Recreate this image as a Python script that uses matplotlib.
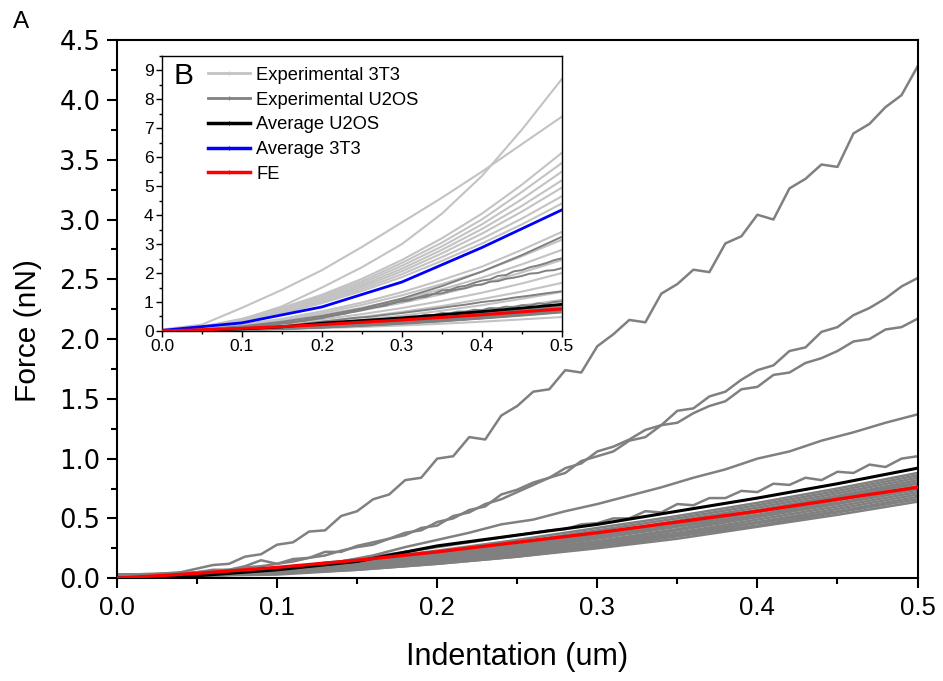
import numpy as np
import matplotlib
matplotlib.use("Agg")
import matplotlib.pyplot as plt
from matplotlib.lines import Line2D
from matplotlib.ticker import MultipleLocator, FormatStrFormatter

plt.rcParams['font.family'] = ['Liberation Sans', 'DejaVu Sans']

# ---- U2OS force curves (nN) sampled at 0.01 um steps ----
u2os_a = [0.02, 0.03, 0.02, 0.04, 0.05, 0.08, 0.11, 0.12, 0.18, 0.20, 0.28,
          0.30, 0.39, 0.40, 0.52, 0.56, 0.66, 0.70, 0.82, 0.84, 1.00,
          1.02, 1.18, 1.16, 1.36, 1.44, 1.56, 1.58, 1.74, 1.72, 1.94,
          2.04, 2.16, 2.14, 2.38, 2.46, 2.58, 2.56, 2.80, 2.86, 3.04,
          3.00, 3.26, 3.34, 3.46, 3.44, 3.72, 3.80, 3.94, 4.04, 4.28]
u2os_b = [0.02, 0.03, 0.03, 0.04, 0.04, 0.05, 0.07, 0.07, 0.10, 0.15, 0.12,
          0.16, 0.17, 0.22, 0.22, 0.27, 0.30, 0.33, 0.38, 0.40, 0.47,
          0.50, 0.57, 0.60, 0.70, 0.74, 0.80, 0.84, 0.92, 0.96, 1.06,
          1.10, 1.16, 1.24, 1.28, 1.40, 1.42, 1.52, 1.56, 1.66, 1.74,
          1.78, 1.90, 1.93, 2.06, 2.10, 2.20, 2.26, 2.34, 2.44, 2.51]
u2os_c = [0.02, 0.02, 0.03, 0.03, 0.04, 0.05, 0.06, 0.07, 0.09, 0.10, 0.12,
          0.14, 0.17, 0.19, 0.23, 0.26, 0.28, 0.33, 0.36, 0.42, 0.44,
          0.52, 0.55, 0.62, 0.66, 0.72, 0.78, 0.84, 0.88, 0.98, 1.02,
          1.06, 1.15, 1.18, 1.28, 1.30, 1.38, 1.44, 1.48, 1.58, 1.60,
          1.70, 1.72, 1.80, 1.84, 1.90, 1.98, 2.00, 2.08, 2.10, 2.17]
u2os_e = [0.01, 0.01, 0.02, 0.02, 0.03, 0.03, 0.04, 0.05, 0.06, 0.07, 0.08,
          0.10, 0.11, 0.13, 0.14, 0.16, 0.18, 0.20, 0.22, 0.24, 0.26,
          0.28, 0.30, 0.32, 0.34, 0.36, 0.38, 0.40, 0.41, 0.45, 0.46,
          0.50, 0.50, 0.56, 0.55, 0.62, 0.61, 0.67, 0.67, 0.73, 0.72,
          0.79, 0.78, 0.84, 0.82, 0.89, 0.88, 0.95, 0.93, 1.00, 1.02]
# sampled at 0.02 um steps
u2os_d = [0.01, 0.01, 0.02, 0.03, 0.05, 0.07, 0.10, 0.14, 0.19, 0.26, 0.32,
          0.38, 0.45, 0.49, 0.56, 0.62, 0.69, 0.76, 0.84, 0.91, 1.00,
          1.06, 1.15, 1.22, 1.30, 1.37]
# remaining U2OS cells, sampled at 0.05 um steps
u2os_rest = [
    [0.03, 0.04, 0.08, 0.15, 0.23, 0.32, 0.42, 0.52, 0.63, 0.75, 0.88],
    [0.02, 0.03, 0.07, 0.13, 0.21, 0.30, 0.40, 0.50, 0.61, 0.73, 0.86],
    [0.03, 0.04, 0.07, 0.13, 0.20, 0.28, 0.37, 0.48, 0.59, 0.71, 0.84],
    [0.02, 0.03, 0.06, 0.12, 0.19, 0.27, 0.36, 0.46, 0.57, 0.69, 0.82],
    [0.03, 0.04, 0.06, 0.11, 0.18, 0.26, 0.35, 0.45, 0.56, 0.68, 0.80],
    [0.02, 0.03, 0.06, 0.11, 0.17, 0.25, 0.34, 0.44, 0.55, 0.67, 0.79],
    [0.02, 0.03, 0.05, 0.10, 0.16, 0.24, 0.33, 0.43, 0.53, 0.65, 0.77],
    [0.02, 0.03, 0.05, 0.10, 0.16, 0.23, 0.31, 0.41, 0.52, 0.63, 0.75],
    [0.02, 0.02, 0.05, 0.09, 0.15, 0.22, 0.30, 0.40, 0.51, 0.62, 0.74],
    [0.01, 0.02, 0.04, 0.09, 0.14, 0.21, 0.29, 0.38, 0.49, 0.60, 0.72],
    [0.02, 0.02, 0.04, 0.08, 0.13, 0.20, 0.28, 0.37, 0.47, 0.58, 0.70],
    [0.01, 0.02, 0.04, 0.08, 0.13, 0.19, 0.27, 0.36, 0.46, 0.56, 0.68],
    [0.02, 0.02, 0.04, 0.07, 0.12, 0.18, 0.26, 0.35, 0.44, 0.55, 0.66],
    [0.01, 0.02, 0.03, 0.07, 0.12, 0.18, 0.25, 0.33, 0.43, 0.53, 0.64],
]
# extra U2OS cell shown only in panel B
u2os_b_panel = [0.02, 0.06, 0.16, 0.32, 0.52, 0.78, 1.12, 1.55, 2.05, 2.62, 3.25]

avg_u2os = [0.00, 0.02, 0.07, 0.14, 0.27, 0.36, 0.45, 0.56, 0.67, 0.79, 0.92]
fe_model = [0.00, 0.04, 0.09, 0.15, 0.22, 0.30, 0.38, 0.47, 0.56, 0.66, 0.76]

# ---- 3T3 force curves (nN), 0.05 um steps ----
exp_3t3 = [
    [0.03, 0.12, 0.40, 0.85, 1.50, 2.20, 3.00, 4.05, 5.35, 6.95, 8.70],
    [0.05, 0.22, 0.80, 1.42, 2.10, 2.90, 3.75, 4.60, 5.50, 6.45, 7.40],
    [0.03, 0.15, 0.42, 0.80, 1.25, 1.80, 2.45, 3.20, 4.05, 5.05, 6.15],
    [0.03, 0.14, 0.40, 0.76, 1.20, 1.72, 2.35, 3.05, 3.85, 4.80, 5.80],
    [0.02, 0.13, 0.38, 0.72, 1.15, 1.65, 2.25, 2.92, 3.68, 4.55, 5.50],
    [0.02, 0.12, 0.36, 0.70, 1.10, 1.58, 2.15, 2.80, 3.52, 4.32, 5.20],
    [0.02, 0.12, 0.34, 0.66, 1.05, 1.52, 2.06, 2.68, 3.36, 4.12, 4.95],
    [0.02, 0.11, 0.32, 0.62, 1.00, 1.45, 1.96, 2.55, 3.18, 3.88, 4.65],
    [0.02, 0.11, 0.31, 0.60, 0.96, 1.38, 1.86, 2.42, 3.02, 3.68, 4.40],
    [0.02, 0.08, 0.22, 0.42, 0.68, 0.98, 1.34, 1.76, 2.22, 2.80, 3.42],
    [0.02, 0.07, 0.20, 0.38, 0.62, 0.90, 1.23, 1.62, 2.05, 2.58, 3.15],
    [0.02, 0.07, 0.18, 0.35, 0.56, 0.80, 1.10, 1.44, 1.84, 2.30, 2.80],
    [0.02, 0.06, 0.16, 0.31, 0.49, 0.71, 0.97, 1.27, 1.62, 2.02, 2.45],
    [0.01, 0.05, 0.13, 0.25, 0.40, 0.58, 0.79, 1.04, 1.32, 1.64, 2.00],
    [0.01, 0.04, 0.11, 0.21, 0.33, 0.48, 0.66, 0.86, 1.10, 1.36, 1.66],
    [0.01, 0.03, 0.09, 0.17, 0.27, 0.39, 0.53, 0.70, 0.89, 1.11, 1.35],
    [0.01, 0.03, 0.07, 0.13, 0.21, 0.31, 0.42, 0.56, 0.71, 0.88, 1.07],
    [0.01, 0.02, 0.05, 0.08, 0.13, 0.19, 0.26, 0.34, 0.44, 0.55, 0.66],
    [0.01, 0.02, 0.04, 0.06, 0.10, 0.14, 0.19, 0.25, 0.32, 0.40, 0.48],
]
# 3T3 average, 0.1 um steps
avg_3t3 = [0.02, 0.28, 0.83, 1.69, 2.88, 4.18]

GRAY_U2OS = '#808080'
GRAY_3T3 = '#c3c3c3'


def grid(vals):
    """indentation grid from 0 to 0.5 um matching the number of samples"""
    return np.linspace(0.0, 0.5, len(vals))


def style_axes(ax, lw):
    for s in ax.spines.values():
        s.set_linewidth(lw)
    ax.tick_params(which='both', direction='out', top=False, right=False, width=lw)


fig = plt.figure(figsize=(9.43, 6.81), dpi=100)

# ---------------- panel A ----------------
ax = fig.add_axes([0.124, 0.151, 0.849, 0.790])
jagged = [u2os_a, u2os_b, u2os_c, u2os_d, u2os_e]
for curve in jagged + u2os_rest:
    ax.plot(grid(curve), curve, color=GRAY_U2OS, lw=1.8, zorder=2)
ax.plot(grid(avg_u2os), avg_u2os, color='black', lw=2.2, zorder=3)
ax.plot(grid(fe_model), fe_model, color='#ff0000', lw=2.4, zorder=4)

ax.set_xlim(0, 0.5)
ax.set_ylim(0, 4.5)
ax.xaxis.set_major_locator(MultipleLocator(0.1))
ax.xaxis.set_minor_locator(MultipleLocator(0.05))
ax.yaxis.set_major_locator(MultipleLocator(0.5))
ax.yaxis.set_minor_locator(MultipleLocator(0.25))
ax.xaxis.set_major_formatter(FormatStrFormatter('%.1f'))
ax.yaxis.set_major_formatter(FormatStrFormatter('%.1f'))
style_axes(ax, 1.5)
ax.tick_params(which='major', length=7, pad=5)
ax.tick_params(which='minor', length=4)
ax.tick_params(axis='x', labelsize=18.5, pad=6)
for lab in ax.get_yticklabels():
    lab.set_fontfamily('DejaVu Sans')
    lab.set_fontsize(18.5)
ax.set_xlabel('Indentation (um)', fontsize=22)
ax.xaxis.set_label_coords(0.5, -0.118)
ax.set_ylabel('Force (nN)', fontsize=21.5)
ax.yaxis.set_label_coords(-0.094, 0.461)
fig.text(0.0138, 0.968, 'A', fontsize=17.5, va='center')

# ---------------- panel B ----------------
ins = fig.add_axes([0.1718, 0.514, 0.424, 0.404])
for curve in exp_3t3:
    ins.plot(grid(curve), curve, color=GRAY_3T3, lw=1.5, zorder=2)
for curve in [u2os_b_panel, u2os_b, u2os_c, u2os_d, u2os_e] + u2os_rest:
    ins.plot(grid(curve), curve, color=GRAY_U2OS, lw=1.4, zorder=3)
ins.plot(grid(avg_u2os), avg_u2os, color='black', lw=2.0, zorder=4)
ins.plot(grid(avg_3t3), avg_3t3, color='#0000ff', lw=2.0, zorder=5)
ins.plot(grid(fe_model), fe_model, color='#ff0000', lw=2.2, zorder=6)

ins.set_xlim(0, 0.5)
ins.set_ylim(0, 9.5)
ins.xaxis.set_major_locator(MultipleLocator(0.1))
ins.xaxis.set_minor_locator(MultipleLocator(0.05))
ins.yaxis.set_major_locator(MultipleLocator(1))
ins.yaxis.set_minor_locator(MultipleLocator(0.5))
ins.xaxis.set_major_formatter(FormatStrFormatter('%.1f'))
style_axes(ins, 1.0)
ins.tick_params(which='major', length=4, labelsize=12.5, pad=2)
ins.tick_params(which='minor', length=2)
ins.text(0.0275, 0.927, 'B', transform=ins.transAxes, fontsize=21.5,
         ha='left', va='center')

handles = [
    Line2D([], [], color=GRAY_3T3, lw=2, marker='|', ms=3, mew=0.8),
    Line2D([], [], color=GRAY_U2OS, lw=2, marker='|', ms=3, mew=0.8),
    Line2D([], [], color='black', lw=2.5, marker='|', ms=3, mew=0.8),
    Line2D([], [], color='#0000ff', lw=2.5, marker='|', ms=3, mew=0.8),
    Line2D([], [], color='#ff0000', lw=2.5, marker='|', ms=3, mew=0.8),
]
labels = ['Experimental 3T3', 'Experimental U2OS', 'Average U2OS',
          'Average 3T3', 'FE']
ins.legend(handles, labels, loc='upper left', bbox_to_anchor=(0.115, 0.96),
           frameon=False, fontsize=13.2, handlelength=2.3, handletextpad=0.33,
           labelspacing=0.42, numpoints=1, borderaxespad=0, borderpad=0)

fig.savefig('out.png', dpi=100)
